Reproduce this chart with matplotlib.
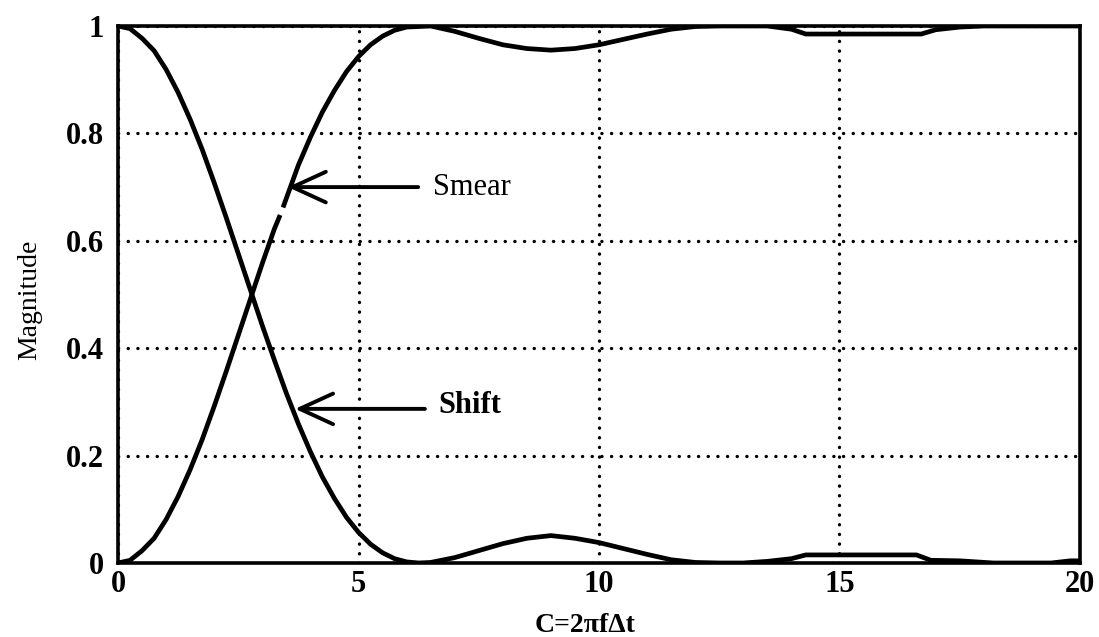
import numpy as np
import matplotlib
matplotlib.use("Agg")
import matplotlib.pyplot as plt

# Shift magnitude versus C = 2*pi*f*dt
shift_c = [0.0, 0.25, 0.5, 0.75, 1.0, 1.25, 1.5, 1.75, 2.0, 2.25, 2.5, 2.75,
           3.0, 3.25, 3.5, 3.75, 4.0, 4.25, 4.5, 4.75, 5.0, 5.25, 5.5, 5.75,
           6.0, 6.25, 6.5, 7.0, 7.5, 8.0, 8.5, 9.0, 9.5, 10.0, 10.5, 11.0,
           11.5, 12.0, 12.5, 13.0, 13.5, 14.0, 14.3, 16.6, 16.9, 17.5, 18.2,
           19.4, 19.8, 20.0]
shift_v = [1.0, 0.995, 0.977, 0.954, 0.919, 0.876, 0.826, 0.77, 0.708, 0.643,
           0.576, 0.509, 0.442, 0.378, 0.316, 0.259, 0.207, 0.160, 0.12, 0.085,
           0.057, 0.035, 0.019, 0.008, 0.002, 0.0, 0.001, 0.01, 0.023, 0.036,
           0.046, 0.051, 0.046, 0.038, 0.027, 0.016, 0.006, 0.001, 0.0, 0.0,
           0.003, 0.008, 0.015, 0.015, 0.005, 0.004, 0.0, 0.0, 0.004, 0.004]

# Smear magnitude (the trace has a break just below the label arrow)
smear_c = [0.0, 0.25, 0.5, 0.75, 1.0, 1.25, 1.5, 1.75, 2.0, 2.25, 2.5, 2.75,
           3.0, 3.25, 3.37, np.nan, 3.43, 3.75, 4.0, 4.25, 4.5, 4.75, 5.0,
           5.25, 5.5, 5.75, 6.0, 6.5, 7.0, 7.5, 8.0, 8.5, 9.0, 9.5, 10.0,
           10.5, 11.0, 11.5, 12.0, 12.5, 13.5, 14.0, 14.3, 16.7, 17.0, 17.5,
           18.0, 20.0]
smear_v = [0.0, 0.005, 0.023, 0.046, 0.081, 0.124, 0.174, 0.23, 0.292, 0.357,
           0.424, 0.491, 0.558, 0.622, 0.648, np.nan, 0.662, 0.741, 0.793,
           0.84, 0.88, 0.915, 0.943, 0.965, 0.981, 0.992, 0.998, 1.0, 0.99,
           0.977, 0.965, 0.958, 0.955, 0.958, 0.965, 0.975, 0.985, 0.994,
           0.999, 1.0, 1.0, 0.994, 0.985, 0.985, 0.993, 0.998, 1.0, 1.0]

x_ticks = [0, 5, 10, 15, 20]
x_tick_labels = ["0", "5", "10", "15", "20"]
y_ticks = [0, 0.2, 0.4, 0.6, 0.8, 1]
y_tick_labels = ["0", "0.2", "0.4", "0.6", "0.8", "1"]

serif = ["Liberation Serif", "DejaVu Serif"]

fig = plt.figure(figsize=(10.99, 6.37), dpi=100)
ax = fig.add_axes([0.1074, 0.1162, 0.8753, 0.8430])

ax.plot(shift_c, shift_v, color="black", lw=3.4, solid_joinstyle="round",
        solid_capstyle="butt", zorder=3)
ax.plot(smear_c, smear_v, color="black", lw=3.4, solid_joinstyle="round",
        solid_capstyle="butt", zorder=3)

ax.set_xlim(0, 20)
ax.set_ylim(0, 1)
ax.set_xticks(x_ticks)
ax.set_xticklabels(x_tick_labels)
ax.set_yticks(y_ticks)
ax.set_yticklabels(y_tick_labels)

ax.grid(True, color="black", linestyle=(0, (0.05, 2.85)), linewidth=2.4,
        dash_capstyle="round")
ax.set_axisbelow(True)

for s in ax.spines.values():
    s.set_linewidth(2.6)
    s.set_zorder(4)

ax.tick_params(axis="both", direction="in", length=0, width=1.5)
ax.tick_params(axis="x", pad=5)
ax.tick_params(axis="y", pad=10)
for lab in ax.get_xticklabels() + ax.get_yticklabels():
    lab.set_fontfamily(serif)
    lab.set_fontsize(22)
    lab.set_fontweight("bold")

ax.set_xlabel("C=2\u03c0f\u0394t", fontfamily=serif, fontsize=20,
              fontweight="bold")
ax.xaxis.set_label_coords(0.485, -0.117, transform=ax.transAxes)
ax.xaxis.label.set_va("center")
ax.set_ylabel("Magnitude", fontfamily=serif, fontsize=20)
ax.yaxis.set_label_coords(-0.092, 0.49, transform=ax.transAxes)
ax.yaxis.label.set_va("center")

arrow = dict(arrowstyle="->,head_length=1.2,head_width=0.55", lw=2.8,
             color="black", mutation_scale=20, shrinkA=0, shrinkB=0)
ax.annotate("", xy=(3.53, 0.70), xytext=(6.24, 0.70), arrowprops=arrow,
            zorder=5)
ax.text(6.55, 0.70, "Smear", fontfamily=serif, fontsize=22,
        va="center", ha="left")
ax.annotate("", xy=(3.68, 0.287), xytext=(6.38, 0.287), arrowprops=arrow,
            zorder=5)
ax.text(6.65, 0.294, "Shift", fontfamily=serif, fontsize=22,
        fontweight="bold", va="center", ha="left")

fig.savefig("out.png", dpi=100, facecolor="white")
